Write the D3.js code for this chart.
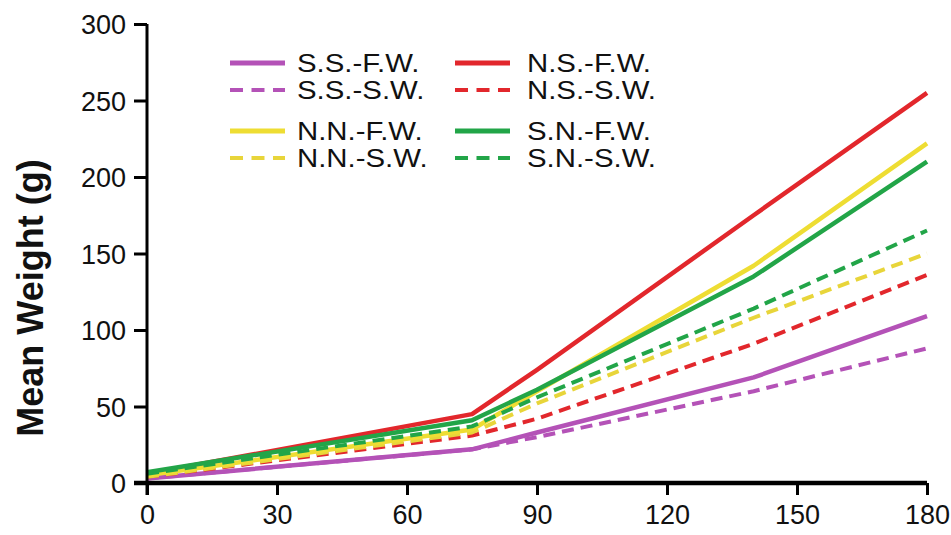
<!DOCTYPE html>
<html lang="en">

<head>
    <meta charset="UTF-8">
    <title>Mean Weight</title>

    <script src="https://d3js.org/d3.v7.min.js"></script>

    <style>
        body {
            margin: 0;
            background: #fff;
        }

        text {
            font-family: "Liberation Sans", Arial, Helvetica, sans-serif;
            fill: #111;
        }

        .tickText {
            font-size: 27px;
        }

        .legendText {
            font-size: 26px;
        }

        .axisTitle {
            font-size: 36px;
            font-weight: bold;
        }
    </style>

</head>

<body>
    <svg width="951" height="535"></svg>

    <script>
        // days sampled
        const days = [0, 75, 90, 140, 180];

        // mean weight (g) per group
        const ssFW = [3, 22, 33, 69, 109];
        const ssSW = [3, 22, 30, 60, 88];
        const nsFW = [6, 45, 74, 175, 255];
        const nsSW = [4, 31, 42, 91, 136];
        const nnFW = [5, 35, 60, 142, 222];
        const nnSW = [4, 33, 52, 108, 150];
        const snFW = [7, 41, 61, 135, 210];
        const snSW = [6, 37, 56, 114, 165];

        const xTicks = [0, 30, 60, 90, 120, 150, 180];
        const yTicks = [0, 50, 100, 150, 200, 250, 300];

        const seriesNames = ["S.S.-F.W.", "S.S.-S.W.", "N.N.-F.W.", "N.N.-S.W.",
            "N.S.-F.W.", "N.S.-S.W.", "S.N.-F.W.", "S.N.-S.W."];
        const seriesValues = [ssFW, ssSW, nnFW, nnSW, nsFW, nsSW, snFW, snSW];
        const seriesColors = ["#b452b7", "#b452b7", "#eedd33", "#e8d53a",
            "#e2272c", "#e2272c", "#22a548", "#22a548"];
        const seriesDashed = [false, true, false, true, false, true, false, true];

        let svgContainer = d3.select("svg");

        const x = d3.scaleLinear().domain([0, 180]).range([147, 927]);
        const y = d3.scaleLinear().domain([0, 300]).range([483, 24]);

        // lines (purple first, green on top)
        const drawOrder = [1, 0, 5, 4, 3, 2, 7, 6];
        const line = d3.line()
            .x(function (d, i) { return x(days[i]); })
            .y(function (d) { return y(d); });

        svgContainer.append("g").attr("class", "lines")
            .selectAll("path")
            .data(drawOrder)
            .enter()
            .append("path")
            .attr("d", function (k) { return line(seriesValues[k]); })
            .attr("fill", "none")
            .attr("stroke", function (k) { return seriesColors[k]; })
            .attr("stroke-width", function (k) { return seriesDashed[k] ? 4 : 4.5; })
            .attr("stroke-dasharray", function (k) { return seriesDashed[k] ? "12,7" : null; })
            .attr("stroke-linejoin", "round");

        // y axis
        let yAxis = svgContainer.append("g")
            .attr("transform", "translate(" + x(0) + ",0)")
            .call(d3.axisLeft(y).tickValues(yTicks).tickSize(13).tickPadding(8));
        yAxis.select(".domain").attr("stroke-width", 3)
            .attr("d", "M0," + y(300) + "V" + (y(0) + 12));
        yAxis.selectAll(".tick line").attr("stroke-width", 3);
        yAxis.selectAll(".tick text").attr("class", "tickText")
            .attr("font-family", null).attr("font-size", null).attr("fill", "#111");

        // x axis
        let xAxis = svgContainer.append("g")
            .attr("transform", "translate(0," + y(0) + ")")
            .call(d3.axisBottom(x).tickValues(xTicks).tickSize(12).tickPadding(10));
        xAxis.select(".domain").attr("stroke-width", 4.5)
            .attr("d", "M" + (x(0) - 13) + ",0H" + x(180));
        xAxis.selectAll(".tick line").attr("stroke-width", 3);
        xAxis.selectAll(".tick text").attr("class", "tickText")
            .attr("font-family", null).attr("font-size", null).attr("fill", "#111");

        svgContainer.selectAll(".tick text").attr("dy", null);
        yAxis.selectAll(".tick text").attr("dy", "0.36em");
        xAxis.selectAll(".tick text").attr("dy", "0.71em");

        // y title
        svgContainer.append("text")
            .attr("class", "axisTitle")
            .attr("transform", "translate(43,298) rotate(-90)")
            .attr("text-anchor", "middle")
            .text("Mean Weight (g)");

        // legend
        const legendRowY = [63, 90, 131, 158];
        const legendColX = [230, 455];
        let legend = svgContainer.append("g").attr("class", "legend")
            .selectAll("g")
            .data(seriesNames)
            .enter()
            .append("g")
            .attr("transform", function (d, i) {
                return "translate(" + legendColX[Math.floor(i / 4)] + "," + legendRowY[i % 4] + ")";
            });

        legend.append("line")
            .attr("x1", 0).attr("x2", 55)
            .attr("stroke", function (d, i) { return seriesColors[i]; })
            .attr("stroke-width", function (d, i) { return seriesDashed[i] ? 4 : 5; })
            .attr("stroke-dasharray", function (d, i) { return seriesDashed[i] ? "13,8.5" : null; });

        legend.append("text")
            .attr("class", "legendText")
            .attr("transform", function (d, i) {
                return "translate(" + (i < 4 ? 67 : 72) + ",9) scale(1.13,1)";
            })
            .text(function (d) { return d; });
    </script>
</body>

</html>
